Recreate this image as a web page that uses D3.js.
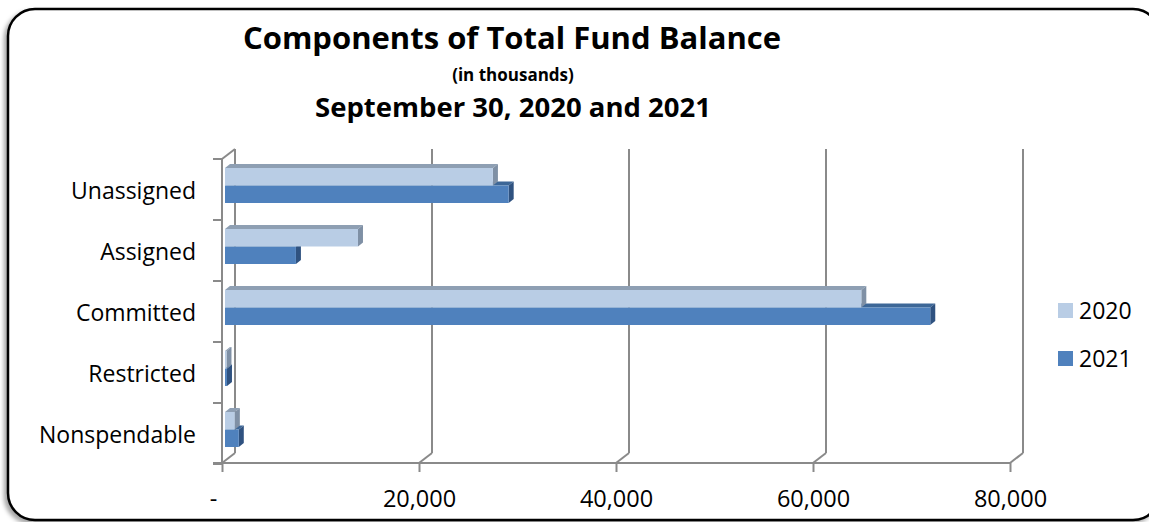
<!DOCTYPE html>
<html>
<head>
<meta charset="utf-8">
<script src="https://cdn.jsdelivr.net/npm/d3@7"></script>
<style>
  html, body { margin: 0; padding: 0; background: #ffffff; }
  svg { display: block; }
  text { font-family: "Open Sans", Lato, sans-serif; fill: #000; }
</style>
</head>
<body>
<svg id="chart" width="1149" height="522"></svg>
<script>
// Fund balance components, in thousands of dollars
const categories = ["Unassigned", "Assigned", "Committed", "Restricted", "Nonspendable"];
const series = ["2020", "2021"];
const values2020 = [27200, 13500, 64600, 150, 1000];
const values2021 = [28800, 7200, 71600, 200, 1400];
const xTicks = [0, 20000, 40000, 60000, 80000];

const svg = d3.select("#chart");

// rounded frame with a soft shadow
const defs = svg.append("defs");
const f = defs.append("filter").attr("id", "shadow").attr("x", "-5%").attr("y", "-5%").attr("width", "110%").attr("height", "115%");
f.append("feDropShadow").attr("dx", -3).attr("dy", 3).attr("stdDeviation", 2).attr("flood-color", "#000").attr("flood-opacity", 0.35);

svg.append("rect")
  .attr("x", 8).attr("y", 9).attr("width", 1152).attr("height", 511)
  .attr("rx", 27).attr("ry", 27)
  .attr("fill", "#fff").attr("stroke", "#000").attr("stroke-width", 2.5)
  .attr("filter", "url(#shadow)");

// titles
svg.append("text").attr("x", 512).attr("y", 49).attr("text-anchor", "middle")
  .style("font-weight", "bold").style("font-size", "31px").text("Components of Total Fund Balance");
svg.append("text").attr("x", 513).attr("y", 81).attr("text-anchor", "middle")
  .style("font-weight", "bold").style("font-size", "17px").text("(in thousands)");
svg.append("text").attr("x", 513).attr("y", 117).attr("text-anchor", "middle")
  .style("font-weight", "bold").style("font-size", "27.5px").text("September 30, 2020 and 2021");

// 3D geometry: front plane and back wall
const depthDX = 13, depthDY = -10;
const frontY0 = 159, frontY1 = 463;
const xFront = d3.scaleLinear().domain([0, 80000]).range([222, 1010]);
const xBack = d3.scaleLinear().domain([0, 80000]).range([222 + depthDX, 1010 + depthDX]);
const xBar = d3.scaleLinear().domain([0, 80000]).range([225, 1013]);
const y = d3.scaleBand().domain(categories).range([frontY0, frontY1 + 1]);

const grid = "#8a8a8a";
const g = svg.append("g");

// back wall gridlines with floor diagonals
xTicks.forEach(v => {
  g.append("line")
    .attr("x1", xBack(v)).attr("x2", xBack(v))
    .attr("y1", frontY0 + depthDY).attr("y2", frontY1 + depthDY)
    .attr("stroke", grid).attr("stroke-width", 2);
  g.append("line")
    .attr("x1", xBack(v)).attr("y1", frontY1 + depthDY)
    .attr("x2", xFront(v)).attr("y2", frontY1)
    .attr("stroke", grid).attr("stroke-width", 2);
});

// left wall edges
g.append("line").attr("x1", xFront(0)).attr("x2", xFront(0))
  .attr("y1", frontY0).attr("y2", frontY1).attr("stroke", grid).attr("stroke-width", 2);
g.append("line").attr("x1", xFront(0)).attr("y1", frontY0)
  .attr("x2", xBack(0)).attr("y2", frontY0 + depthDY).attr("stroke", grid).attr("stroke-width", 2);

// category ticks on the left edge
const bounds = categories.map(c => y(c)).concat([y(categories[categories.length - 1]) + y.bandwidth()]);
bounds.forEach(b => {
  g.append("line").attr("x1", xFront(0) - 9).attr("x2", xFront(0))
    .attr("y1", b).attr("y2", b).attr("stroke", grid).attr("stroke-width", 2);
});

// value axis along the front edge of the floor
const xAxis = d3.axisBottom(xFront)
  .tickValues(xTicks)
  .tickSize(9)
  .tickPadding(18)
  .tickFormat(d => d === 0 ? "-" : d3.format(",")(d));
const ax = svg.append("g").attr("transform", `translate(0,${frontY1})`).call(xAxis);
ax.select(".domain").remove();
ax.selectAll(".tick line").attr("stroke", grid).attr("stroke-width", 2);
ax.selectAll(".tick text").style("font-size", "23.5px").style("font-family", "'Open Sans', sans-serif").attr("fill", "#000");
ax.selectAll(".tick").filter(d => d === 0).select("text").attr("dx", -9);
g.append("line").attr("x1", xFront(0) - 9).attr("x2", xFront(80000))
  .attr("y1", frontY1).attr("y2", frontY1).attr("stroke", grid).attr("stroke-width", 2);

// category labels
svg.append("g").selectAll("text").data(categories).join("text")
  .attr("x", 196).attr("y", d => y(d) + y.bandwidth() / 2 + 1)
  .attr("dy", "0.35em").attr("text-anchor", "end")
  .style("font-size", "23px").text(d => d);

// 3D bars
const palette = {
  "2020": { front: "#b9cde5", top: "#8e9fb3", side: "#7f90a5" },
  "2021": { front: "#4f81bd", top: "#3d6797", side: "#2f5280" }
};
const bdx = 5, bdy = -4;
const barTop = 9, barH = 17.5;

const rows = categories.map((c, i) => ({ cat: c, v: { "2020": values2020[i], "2021": values2021[i] } }));
const bars = svg.append("g");

function drawBar(sel, x0, x1, yTop, h, col) {
  // top face
  sel.append("path")
    .attr("d", `M${x0},${yTop} L${x0 + bdx},${yTop + bdy} L${x1 + bdx},${yTop + bdy} L${x1},${yTop} Z`)
    .attr("fill", col.top);
  // side face
  sel.append("path")
    .attr("d", `M${x1},${yTop} L${x1 + bdx},${yTop + bdy} L${x1 + bdx},${yTop + h + bdy} L${x1},${yTop + h} Z`)
    .attr("fill", col.side);
  // front face
  sel.append("rect").attr("x", x0).attr("y", yTop).attr("width", Math.max(0, x1 - x0)).attr("height", h)
    .attr("fill", col.front);
}

rows.forEach(r => {
  const b = y(r.cat);
  // lower bar (2021) first so the 2020 bar sits in front of its top face
  [["2021", 1], ["2020", 0]].forEach(([s, k]) => {
    const yTop = b + barTop + k * barH;
    drawBar(bars.append("g"), xBar(0), xBar(r.v[s]), yTop, barH, palette[s]);
  });
});

// legend
const legend = svg.append("g").selectAll("g").data(series).join("g")
  .attr("transform", (d, i) => `translate(1058,${303 + i * 48})`);
legend.append("rect").attr("width", 15).attr("height", 15)
  .attr("fill", d => palette[d].front);
legend.append("text").attr("x", 21).attr("y", 8).attr("dy", "0.35em")
  .style("font-size", "23px").text(d => d);
</script>
</body>
</html>
